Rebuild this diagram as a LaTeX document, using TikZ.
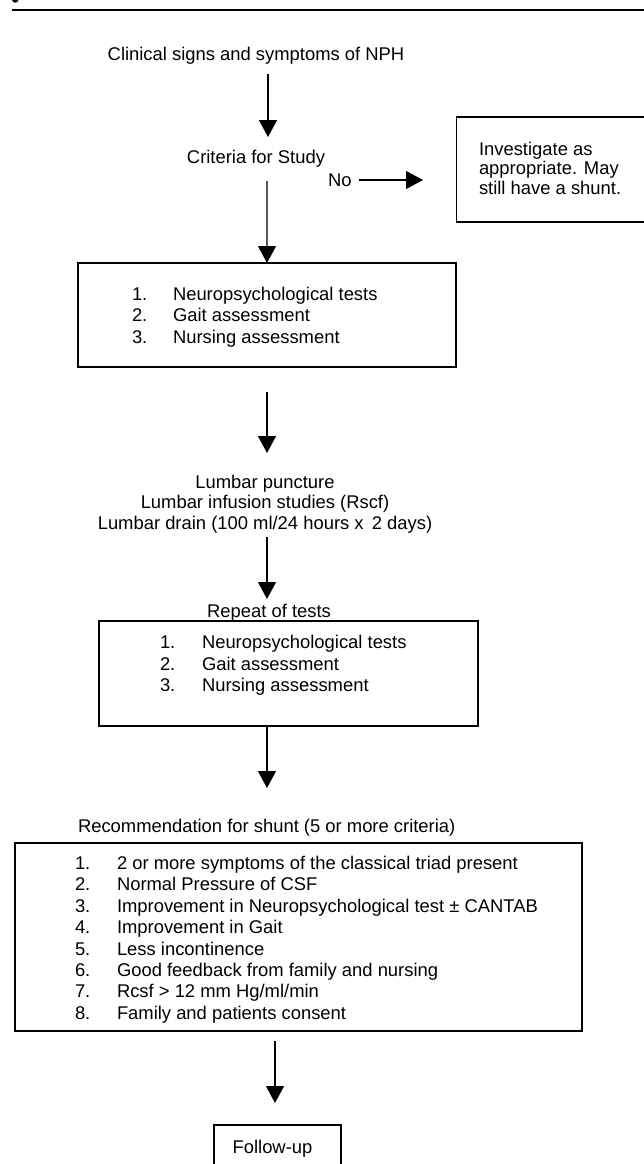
\documentclass[tikz,border=0pt]{standalone}
\usepackage{fontspec}
\setmainfont{Liberation Sans}
\usetikzlibrary{arrows.meta}
\begin{document}
\begin{tikzpicture}[x=1bp,y=-1bp,
  every node/.style={inner sep=0pt, outer sep=0pt, font=\fontsize{18.4bp}{21.4bp}\selectfont},
  boxnode/.style={draw, line width=1.3bp, anchor=north west},
  arr/.style={line width=1.3bp, -{Triangle[length=17bp,width=18bp]}},
  ctxt/.style={anchor=base},
  ltxt/.style={anchor=base west}]
\useasboundingbox (0,0) rectangle (644,1164);
% top rule and the cut-off tail of a glyph above it
\fill (12,0) .. controls (13,3.6) and (17.5,3.6) .. (18.5,0) -- cycle;
\draw[line width=1.4bp] (12,10) -- (644,10);

% top texts
\node[ctxt] (clin) at (256,60) {Clinical signs and symptoms of NPH};
\node[ctxt] (crit) at (256,163) {Criteria for Study};
\node[ltxt] (no) at (328,186) {No};

% investigate box
\node[boxnode, minimum width=200bp, minimum height=105bp] (inv) at (456.7,117) {};
\node[ltxt] (inv1) at (479,155) {Investigate as};
\node[ltxt] (inv2) at (479,174.5) {appropriate. May};
\node[ltxt] (inv3) at (479,194) {still have a shunt.};

% box 1
\node[boxnode, minimum width=378bp, minimum height=104bp] (box1) at (78,263) {};
\node[ltxt] (b1n1) at (132,300) {1.};
\node[ltxt] (b1t1) at (173,300) {Neuropsychological tests};
\node[ltxt] (b1n2) at (132,321.5) {2.};
\node[ltxt] (b1t2) at (173,321.5) {Gait assessment};
\node[ltxt] (b1n3) at (132,343) {3.};
\node[ltxt] (b1t3) at (173,343) {Nursing assessment};

% lumbar texts
\node[ctxt] (lum1) at (265,488) {Lumbar puncture};
\node[ctxt] (lum2) at (265,508.5) {Lumbar infusion studies (Rscf)};
\node[ctxt] (lum3) at (265,529) {Lumbar drain (100 ml/24 hours x\, 2 days)};

% box 2
\node[ctxt] (rep) at (269,617) {Repeat of tests};
\node[boxnode, minimum width=379bp, minimum height=105bp] (box2) at (99,621) {};
\node[ltxt] (b2n1) at (160,648.5) {1.};
\node[ltxt] (b2t1) at (202,648.5) {Neuropsychological tests};
\node[ltxt] (b2n2) at (160,670) {2.};
\node[ltxt] (b2t2) at (202,670) {Gait assessment};
\node[ltxt] (b2n3) at (160,691.5) {3.};
\node[ltxt] (b2t3) at (202,691.5) {Nursing assessment};

% recommendation box
\node[ltxt] (rec) at (78,832) {Recommendation for shunt (5 or more criteria)};
\node[boxnode, minimum width=567bp, minimum height=188bp] (box3) at (15,843) {};
\foreach \i/\t [count=\k from 0] in {1/{2 or more symptoms of the classical triad present},
  2/{Normal Pressure of CSF},
  3/{Improvement in Neuropsychological test ± CANTAB},
  4/{Improvement in Gait},
  5/{Less incontinence},
  6/{Good feedback from family and nursing},
  7/{Rcsf > 12 mm Hg/ml/min},
  8/{Family and patients consent}}{
  \node[ltxt] (b3n\i) at (75,869.5+21.4*\k) {\i.};
  \node[ltxt] (b3t\i) at (117,869.5+21.4*\k) {\t};
}

% follow-up box
\node[boxnode, minimum width=127bp, minimum height=60bp] (fu) at (214,1125) {};
\node[ctxt] (fut) at (272.5,1153) {Follow-up};

% arrow end points
\coordinate (a1s) at (268,74);
\coordinate (a1e) at (268,137);
\coordinate (a2s) at (267,181);
\coordinate (a3s) at (267,392);
\coordinate (a3e) at (267,453);
\coordinate (a4s) at (267,537);
\coordinate (a4e) at (267,599);
\coordinate (a5s) at (267,726);
\coordinate (a5e) at (267,788);
\coordinate (a6s) at (275,1041);
\coordinate (a6e) at (275,1103);
\coordinate (nos) at (359,180);
\coordinate (noe) at (423,180);

\draw[arr] (a1s) -- (a1e);
\draw[arr] (a2s) -- (box1.north);
\draw[arr] (a3s) -- (a3e);
\draw[arr] (a4s) -- (a4e);
\draw[arr] (a5s) -- (a5e);
\draw[arr] (a6s) -- (a6e);
\draw[arr] (nos) -- (noe);
\end{tikzpicture}
\end{document}
